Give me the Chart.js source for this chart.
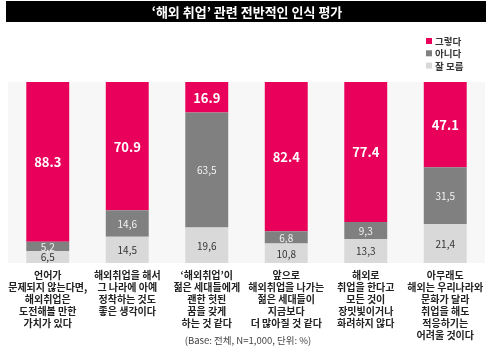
<!DOCTYPE html>
<html>
<head>
<meta charset="utf-8">
<script src="https://cdn.jsdelivr.net/npm/chart.js@4/dist/chart.umd.min.js"></script>
<style>
html,body{margin:0;padding:0;background:#fff;}
#wrap{width:494px;height:355px;position:relative;}
</style>
</head>
<body>
<div id="wrap"><canvas id="c" width="494" height="355"></canvas></div>
<script>
const titleText = "‘해외 취업’ 관련 전반적인 인식 평가";
const noteText = "(Base: 전체, N=1,000, 단위: %)";
const categories = [
  ["언어가","문제되지 않는다면,","해외취업은","도전해볼 만한","가치가 있다"],
  ["해외취업을 해서","그 나라에 아예","정착하는 것도","좋은 생각이다"],
  ["‘해외취업’이","젊은 세대들에게","괜한 헛된","꿈을 갖게","하는 것 같다"],
  ["앞으로","해외취업을 나가는","젊은 세대들이","지금보다","더 많아질 것 같다"],
  ["해외로","취업을 한다고","모든 것이","장밋빛이거나","화려하지 않다"],
  ["아무래도","해외는 우리나라와","문화가 달라","취업을 해도","적응하기는","어려울 것이다"]
];
const seriesNames = ["그렇다","아니다","잘 모름"];
const yes = [88.3, 70.9, 16.9, 82.4, 77.4, 47.1];
const no = [5.2, 14.6, 63.5, 6.8, 9.3, 31.5];
const dunno = [6.5, 14.5, 19.6, 10.8, 13.3, 21.4];

const COL_YES = '#e8005a', COL_NO = '#808080', COL_DK = '#d9d9d9';
const KFONT = '"Noto Sans CJK KR", "Noto Sans", sans-serif';

const decor = {
  id: 'decor',
  beforeDraw(chart) {
    const ctx = chart.ctx, a = chart.chartArea;
    ctx.save();
    ctx.fillStyle = '#f7f7f7';
    ctx.fillRect(a.left, a.top, a.right - a.left, a.bottom - a.top);
    // title bar
    ctx.fillStyle = '#000';
    ctx.fillRect(6, 1, 480, 21);
    ctx.fillStyle = '#fff';
    ctx.font = 'bold 13px ' + KFONT;
    ctx.textAlign = 'center';
    ctx.textBaseline = 'middle';
    ctx.fillText(titleText, 247, 12);
    // legend
    const cols = [COL_YES, COL_NO, COL_DK];
    ctx.textAlign = 'left';
    ctx.font = 'bold 9.5px ' + KFONT;
    for (let i = 0; i < 3; i++) {
      const y = 41 + i * 12.3;
      ctx.fillStyle = cols[i];
      ctx.fillRect(426, y - 3, 6, 6);
      ctx.fillStyle = '#333';
      ctx.fillText(seriesNames[i], 435, y + 0.5);
    }
    // note
    ctx.textAlign = 'center';
    ctx.font = '9.5px ' + KFONT;
    ctx.fillStyle = '#444';
    ctx.fillText(noteText, 248, 340);
    ctx.restore();
  },
  afterDatasetsDraw(chart) {
    const ctx = chart.ctx;
    ctx.save();
    ctx.textAlign = 'center';
    ctx.textBaseline = 'middle';
    chart.data.datasets.forEach((ds, di) => {
      const meta = chart.getDatasetMeta(di);
      meta.data.forEach((bar, i) => {
        const v = ds.data[i];
        const yc = (bar.y + bar.base) / 2;
        let txt;
        if (ds.label === '그렇다') {
          ctx.font = 'bold 13px ' + KFONT;
          ctx.fillStyle = '#fff';
          txt = v.toFixed(1);
        } else if (ds.label === '아니다') {
          ctx.font = '10px ' + KFONT;
          ctx.fillStyle = '#f2f2f2';
          txt = v.toFixed(1).replace('.', ',');
        } else {
          ctx.font = '10px ' + KFONT;
          ctx.fillStyle = '#333';
          txt = v.toFixed(1).replace('.', ',');
        }
        ctx.fillText(txt, bar.x, yc + 0.5);
      });
    });
    ctx.restore();
  }
};

new Chart(document.getElementById('c'), {
  type: 'bar',
  data: {
    labels: categories,
    datasets: [
      { label: seriesNames[2], data: dunno, backgroundColor: COL_DK },
      { label: seriesNames[1], data: no, backgroundColor: COL_NO },
      { label: seriesNames[0], data: yes, backgroundColor: COL_YES }
    ]
  },
  options: {
    responsive: false,
    animation: false,
    devicePixelRatio: 1,
    datasets: { bar: { categoryPercentage: 1, barPercentage: 0.54, borderWidth: 0 } },
    layout: { padding: { top: 82, left: 8, right: 9, bottom: 8 } },
    plugins: { legend: { display: false }, tooltip: { enabled: false } },
    scales: {
      x: {
        stacked: true,
        grid: { display: false, drawTicks: false },
        border: { display: false },
        ticks: {
          color: '#222',
          padding: 6,
          maxRotation: 0,
          autoSkip: false,
          font: { family: KFONT, size: 10, weight: 'bold', lineHeight: 1.2 }
        }
      },
      y: {
        stacked: true,
        display: false,
        min: 0, max: 100
      }
    }
  },
  plugins: [decor]
});
</script>
</body>
</html>
